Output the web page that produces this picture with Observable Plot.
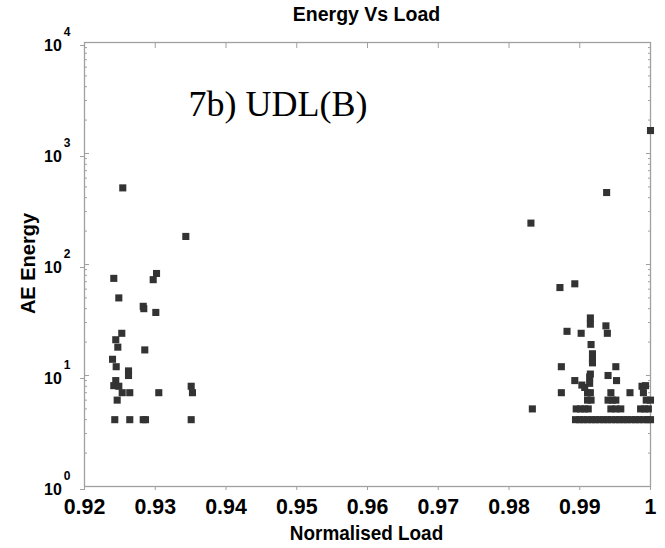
<!DOCTYPE html>
<html>
<head>
<meta charset="utf-8">
<script src="https://cdn.jsdelivr.net/npm/d3@7"></script>
<script src="https://cdn.jsdelivr.net/npm/@observablehq/plot@0.6"></script>
<style>
  html, body { margin: 0; padding: 0; background: #fff; }
  #chart svg { font-family: "Liberation Sans", Arial, sans-serif; }
</style>
</head>
<body>
<div id="chart"></div>
<script>
// ---- data ----
const load = [
  // left cluster
  0.92541, 0.93432, 0.92414, 0.93018, 0.92971, 0.92485, 0.92830, 0.92838, 0.93008,
  0.92527, 0.92442, 0.92471, 0.92852, 0.92396, 0.92448, 0.92622, 0.92622, 0.92442,
  0.92414, 0.92485, 0.92533, 0.92640, 0.93050, 0.93508, 0.93526, 0.92462,
  0.92428, 0.92640, 0.92830, 0.92862, 0.93508,
  // right cluster
  0.9831, 1.0, 0.9938, 0.9872, 0.9893, 0.9915, 0.9915, 0.9937, 0.9939, 0.9882, 0.9902,
  0.9916, 0.9918, 0.9918, 0.9918, 0.9874, 0.9951, 0.9915, 0.9914, 0.9940, 0.9893, 0.9952,
  0.9914, 0.9903, 0.9907, 0.9988, 0.9993,
  0.9874, 0.9911, 0.9915, 0.9944, 0.9971, 0.9990,
  0.9911, 0.9916, 0.9940, 0.9946, 0.9951, 0.9994, 1.0,
  0.9833, 0.9895, 0.9901, 0.9907, 0.9912, 0.9944, 0.9951, 0.9958, 0.9986, 0.9992, 0.9997,
  0.9894, 0.9900, 0.9905, 0.9911, 0.9917, 0.9922, 0.9928, 0.9934, 0.9939, 0.9945,
  0.9951, 0.9956, 0.9962, 0.9967, 0.9973, 0.9979, 0.9984, 0.9990, 0.9996, 1.0
];
const energy = [
  // left cluster
  490, 179, 75, 83, 73, 50, 42, 40, 37,
  24, 21, 18, 17, 14, 12, 11, 10, 9,
  8.1, 8, 7, 7, 7, 8, 7, 6,
  4, 4, 4, 4, 4,
  // right cluster
  236, 1610, 445, 62, 67, 33, 29, 28, 24, 25, 24,
  19, 15.7, 14, 13, 12, 12, 10.3, 9.7, 10, 9, 9,
  8.5, 8.2, 7.8, 8, 8.1,
  7, 7, 7, 7, 7, 7,
  6, 6, 6, 6, 6, 6, 6,
  5, 5, 5, 5, 5, 5, 5, 5, 5, 5, 5,
  4, 4, 4, 4, 4, 4, 4, 4, 4, 4,
  4, 4, 4, 4, 4, 4, 4, 4, 4, 4
];
const xTicks = [0.92, 0.93, 0.94, 0.95, 0.96, 0.97, 0.98, 0.99, 1];
const xTickLabels = ["0.92", "0.93", "0.94", "0.95", "0.96", "0.97", "0.98", "0.99", "1"];
const yTicks = [1, 10, 100, 1000, 10000];
const yTickBase = "10";
const yTickExp = ["0", "1", "2", "3", "4"];
const yMinorTicks = [2,3,4,5,6,7,8,9,20,30,40,50,60,70,80,90,200,300,400,500,600,700,800,900,2000,3000,4000,5000,6000,7000,8000,9000];
const title = "Energy Vs Load";
const xLabel = "Normalised Load";
const yLabel = "AE Energy";
const note = "7b) UDL(B)";

const points = load.map((x, i) => ({load: x, energy: energy[i]}));
const axisGray = "#a0a0a0";

const chart = Plot.plot({
  width: 665,
  height: 548,
  marginLeft: 84,
  marginRight: 15,
  marginTop: 42,
  marginBottom: 62,
  style: {background: "#fff", color: "#000", overflow: "visible"},
  x: {domain: [0.92, 1], axis: null},
  y: {type: "log", domain: [1, 10000], axis: null},
  marks: [
    Plot.frame({stroke: axisGray, strokeWidth: 1.3}),
    Plot.axisX({anchor: "bottom", ticks: xTicks, tickSize: 4, tickPadding: 8, label: null,
      tickFormat: (d, i) => xTickLabels[i], stroke: axisGray, fontSize: 22, fontWeight: "bold", fill: "#000"}),
    Plot.axisX({anchor: "top", ticks: xTicks, tickSize: -5, fill: "none", stroke: axisGray, label: null}),
    Plot.axisY({anchor: "left", ticks: yTicks, tickSize: 4, tickPadding: 10,
      tickFormat: () => yTickBase, stroke: axisGray, fontSize: 16, fontWeight: "bold", fill: "#000", label: null, dy: 3}),
    Plot.axisY({anchor: "left", ticks: yTicks, tickSize: -5, fill: "none", stroke: axisGray, label: null}),
    Plot.axisY({anchor: "left", ticks: yMinorTicks, tickSize: -3, fill: "none", stroke: axisGray, label: null}),
    Plot.axisY({anchor: "right", ticks: yTicks, tickSize: -5, fill: "none", stroke: axisGray, label: null}),
    Plot.axisY({anchor: "right", ticks: yMinorTicks, tickSize: -3, fill: "none", stroke: axisGray, label: null}),
    Plot.dot(points, {x: "load", y: "energy", symbol: "square", r: 4, fill: "#333", stroke: "none"}),
    Plot.text([title], {frameAnchor: "top", lineAnchor: "middle", dx: -1, dy: -28, fontSize: 19.5, fontWeight: "bold", fill: "#000"}),
    Plot.text([xLabel], {frameAnchor: "bottom", lineAnchor: "middle", dx: -1, dy: 47, fontSize: 21, fontWeight: "bold", fill: "#000"}),
    Plot.text([yLabel], {frameAnchor: "left", textAnchor: "middle", lineAnchor: "middle", dx: -56, dy: -1, rotate: -90, fontSize: 20, fontWeight: "bold", fill: "#000"}),
    Plot.text([note], {frameAnchor: "top-left", textAnchor: "start", lineAnchor: "middle", dx: 104, dy: 62, fontSize: 36, fontFamily: "Liberation Serif, Times New Roman, serif", fill: "#000"})
  ]
});

// superscript exponents on the y tick labels
d3.select(chart).selectAll('g[aria-label="y-axis tick label"] text').each(function(d, i) {
  d3.select(this).append("tspan").attr("dx", 2).attr("dy", -15).attr("font-size", 12).text(yTickExp[i]);
});

document.getElementById("chart").appendChild(chart);

// narrow the tick labels and axis label horizontally, like the condensed face of the original
function condense(sel, f) {
  sel.each(function() {
    const L = this.getComputedTextLength();
    this.setAttribute("textLength", L * f);
    this.setAttribute("lengthAdjust", "spacingAndGlyphs");
  });
}
condense(d3.select(chart).selectAll('g[aria-label="x-axis tick label"] text'), 0.97);
condense(d3.select(chart).selectAll('text').filter(function() { return this.textContent === xLabel; }), 0.9);
</script>
</body>
</html>
